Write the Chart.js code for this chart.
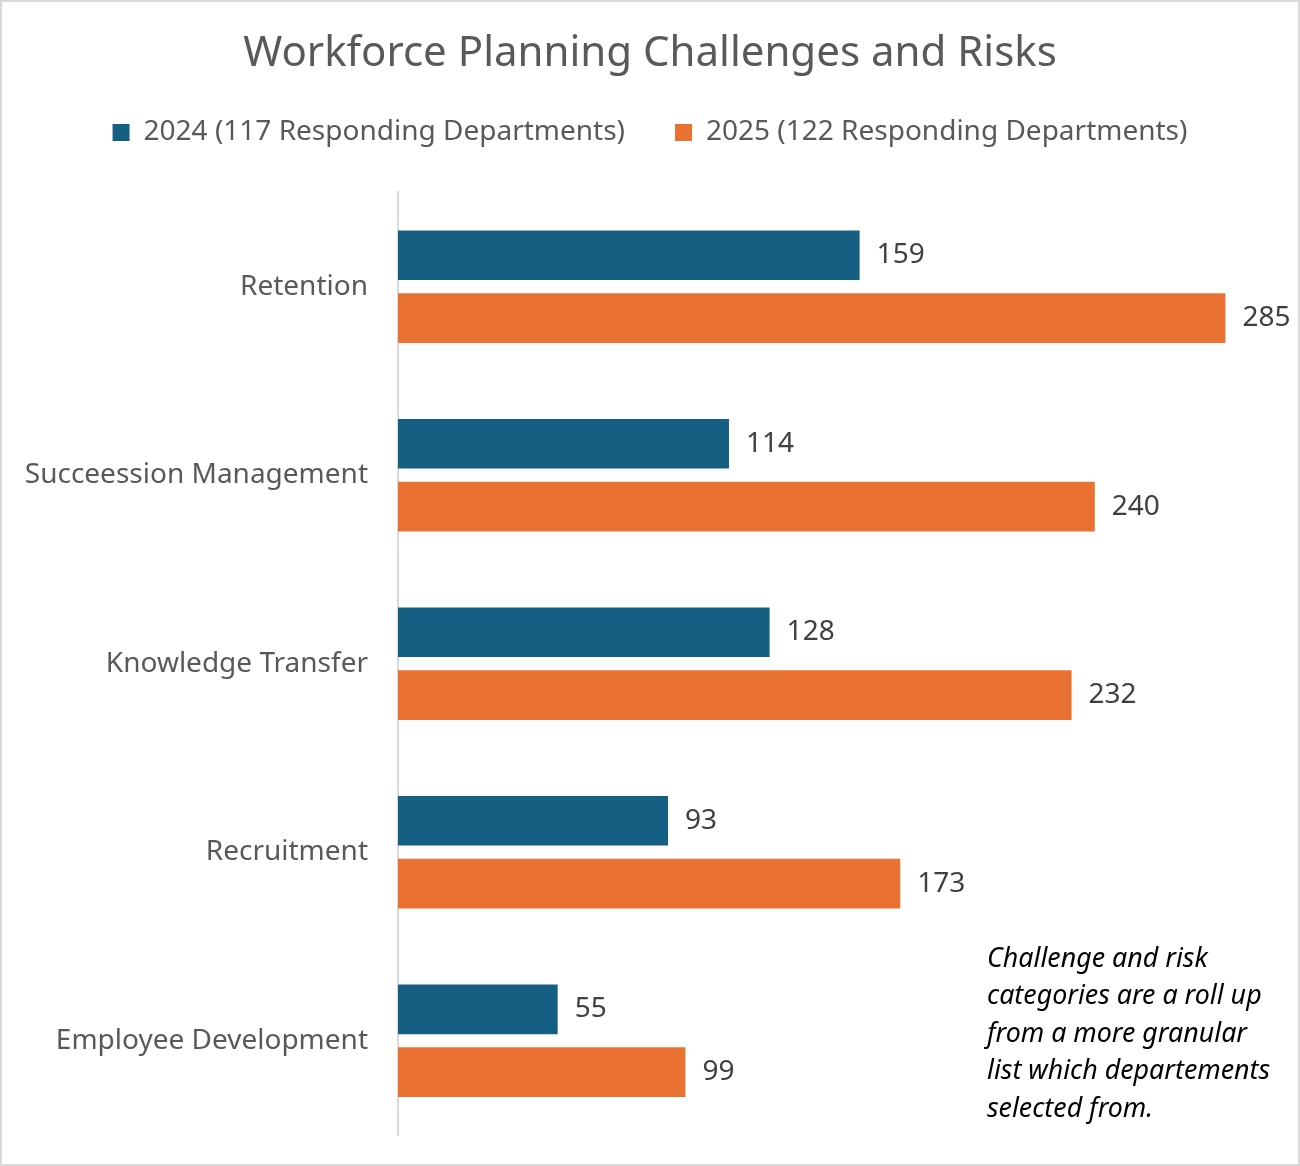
<!DOCTYPE html>
<html>
<head>
<meta charset="utf-8">
<script src="https://cdn.jsdelivr.net/npm/chart.js@4"></script>
<style>
  html, body { margin: 0; padding: 0; background: #fff; }
  #wrap { width: 1300px; height: 1166px; box-sizing: border-box; border: 2px solid #d9d9d9; }
  canvas { display: block; }
</style>
</head>
<body>
<div id="wrap"><canvas id="chart" width="1296" height="1162"></canvas></div>
<script>
const categories = ["Retention", "Succeession Management", "Knowledge Transfer", "Recruitment", "Employee Development"];
const values2024 = [159, 114, 128, 93, 55];
const values2025 = [285, 240, 232, 173, 99];
const seriesLabels = ["2024 (117 Responding Departments)", "2025 (122 Responding Departments)"];
const noteLines = ["Challenge and risk", "categories are a roll up", "from a more granular", "list which departements", "selected from."];

const FONT = "'Noto Sans', sans-serif";

// value labels at the end of each bar
const barValues = {
  id: "barValues",
  afterDatasetsDraw(chart) {
    const ctx = chart.ctx;
    ctx.save();
    ctx.font = "28px " + FONT;
    ctx.fillStyle = "#404040";
    ctx.textBaseline = "middle";
    ctx.textAlign = "left";
    chart.data.datasets.forEach((ds, i) => {
      chart.getDatasetMeta(i).data.forEach((bar, j) => {
        ctx.fillText(ds.data[j], bar.x + 17, bar.y);
      });
    });
    ctx.restore();
  }
};

// italic note, bottom right
const note = {
  id: "note",
  afterDraw(chart) {
    const ctx = chart.ctx;
    ctx.save();
    ctx.font = "italic 26.8px " + FONT;
    ctx.fillStyle = "#000";
    ctx.textBaseline = "middle";
    noteLines.forEach((t, i) => ctx.fillText(t, 985, 957 + i * 37.5));
    ctx.restore();
  }
};

// extra room under the legend
const legendGap = {
  id: "legendGap",
  beforeInit(chart) {
    const fit = chart.legend.fit;
    chart.legend.fit = function () {
      fit.bind(chart.legend)();
      this.height += 36;
    };
  }
};

new Chart(document.getElementById("chart"), {
  type: "bar",
  data: {
    labels: categories,
    datasets: [
      { label: seriesLabels[0], data: values2024, backgroundColor: "#156082" },
      { label: seriesLabels[1], data: values2025, backgroundColor: "#E97132" }
    ]
  },
  plugins: [barValues, note, legendGap],
  options: {
    indexAxis: "y",
    responsive: false,
    animation: false,
    categoryPercentage: 0.667,
    barPercentage: 0.79,
    layout: { padding: { left: 0, right: 0, bottom: 29, top: 0 } },
    plugins: {
      title: {
        display: true,
        text: "Workforce Planning Challenges and Risks",
        color: "#595959",
        font: { family: FONT, size: 42, weight: "normal" },
        padding: { top: 27, bottom: -11 }
      },
      legend: {
        labels: {
          color: "#595959",
          font: { family: FONT, size: 28 },
          boxWidth: 17,
          boxHeight: 17,
          padding: 50
        }
      },
      tooltip: { enabled: false }
    },
    scales: {
      x: { display: false, min: 0, max: 310 },
      y: {
        grid: { display: false, drawTicks: false },
        border: { display: true, color: "#d9d9d9", width: 2 },
        ticks: { color: "#595959", font: { family: FONT, size: 28 }, padding: 30 },
        afterFit(scale) {
          scale.width = 396;
          scale.paddingTop = 0;
          scale.paddingBottom = 0;
        }
      }
    }
  }
});
</script>
</body>
</html>
